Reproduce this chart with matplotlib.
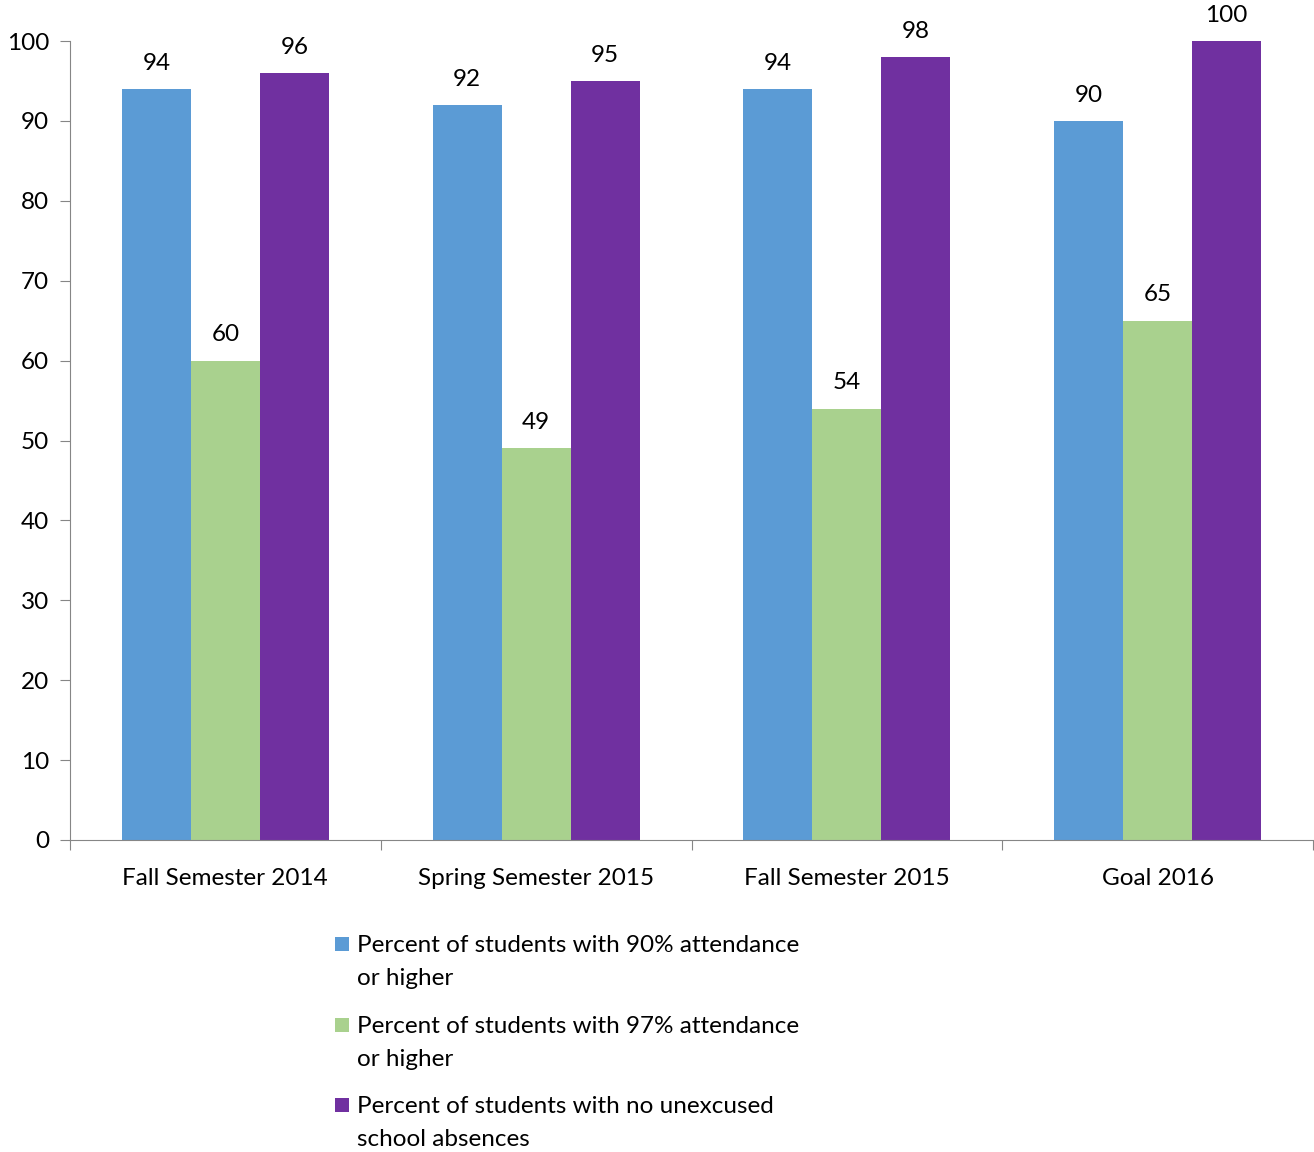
import numpy as np
import matplotlib.pyplot as plt
from matplotlib.patches import Rectangle

categories = ["Fall Semester 2014", "Spring Semester 2015", "Fall Semester 2015", "Goal 2016"]
series_names = [
    "Percent of students with 90% attendance\nor higher",
    "Percent of students with 97% attendance\nor higher",
    "Percent of students with no unexcused\nschool absences",
]
att90 = [94, 92, 94, 90]
att97 = [60, 49, 54, 65]
no_unexcused = [96, 95, 98, 100]
colors = ["#5B9BD5", "#A9D18E", "#7030A0"]

plt.rcParams['font.family'] = ['Lato', 'DejaVu Sans']
FS = 17.5

fig = plt.figure(figsize=(13.14, 11.52), dpi=100)
ax = fig.add_axes([70 / 1314, 1 - 840 / 1152, 1243 / 1314, 799 / 1152])

x = np.arange(len(categories))
w = 0.222
for i, vals in enumerate([att90, att97, no_unexcused]):
    bars = ax.bar(x + (i - 1) * w, vals, width=w, color=colors[i])
    for b, v in zip(bars, vals):
        ax.annotate(str(v), (b.get_x() + b.get_width() / 2, v), xytext=(0, 11),
                    textcoords="offset points", ha="center", va="bottom", fontsize=FS)

ax.set_xlim(-0.5, 3.5)
ax.set_ylim(0, 100)
ax.set_yticks(range(0, 101, 10))
ax.set_xticks(np.arange(-0.5, 4, 1))
ax.set_xticklabels([])
ax.set_xticks(x, minor=True)
ax.set_xticklabels(categories, minor=True, fontsize=FS)
ax.tick_params(axis="x", which="minor", length=0, pad=20)
ax.tick_params(axis="x", which="major", length=7, color="#868686", direction="out")
ax.tick_params(axis="y", length=7, color="#868686", labelsize=FS, pad=8)
for s in ["top", "right"]:
    ax.spines[s].set_visible(False)
for s in ["left", "bottom"]:
    ax.spines[s].set_color("#868686")

# legend drawn by hand so the square lines up with the first text line
first_line_y = [944, 1025, 1105]
for name, col, yc in zip(series_names, colors, first_line_y):
    fig.patches.append(Rectangle((335 / 1314, 1 - (yc + 7) / 1152), 14 / 1314, 14 / 1152,
                                 transform=fig.transFigure, facecolor=col, edgecolor="none"))
    fig.text(357 / 1314, 1 - (yc - 9) / 1152, name, fontsize=FS, va="top", ha="left",
             linespacing=1.72)

fig.savefig("out.png", dpi=100)
